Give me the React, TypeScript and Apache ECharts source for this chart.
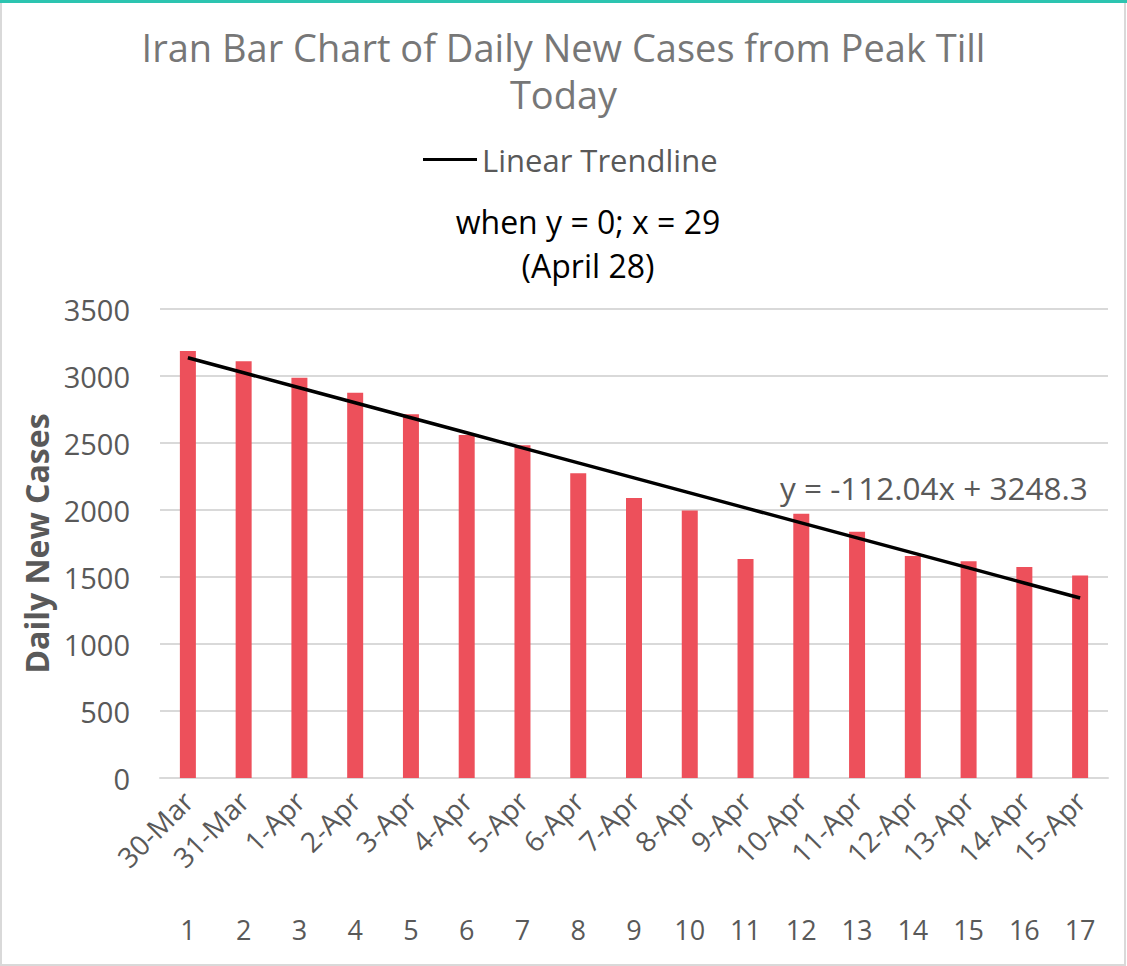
import React, { useEffect, useRef } from "react";
import * as echarts from "echarts";

const dates = ["30-Mar", "31-Mar", "1-Apr", "2-Apr", "3-Apr", "4-Apr", "5-Apr", "6-Apr", "7-Apr", "8-Apr", "9-Apr", "10-Apr", "11-Apr", "12-Apr", "13-Apr", "14-Apr", "15-Apr"];
const dayNumbers = ["1", "2", "3", "4", "5", "6", "7", "8", "9", "10", "11", "12", "13", "14", "15", "16", "17"];
const dailyNewCases = [3186, 3110, 2987, 2875, 2715, 2560, 2483, 2274, 2089, 1997, 1634, 1972, 1837, 1657, 1617, 1574, 1512];
const trendline = [3136.26, 3024.22, 2912.18, 2800.14, 2688.1, 2576.06, 2464.02, 2351.98, 2239.94, 2127.9, 2015.86, 1903.82, 1791.78, 1679.74, 1567.7, 1455.66, 1343.62];
const yTicks = { min: 0, max: 3500, interval: 500 };

const FONT = "'Open Sans', sans-serif";
const GRAY = "#595959";

export default function App() {
  const ref = useRef<HTMLDivElement>(null);
  useEffect(() => {
    if (!ref.current) return;
    const chart = echarts.init(ref.current, undefined, { renderer: "svg" });
    chart.setOption({
      animation: false,
      backgroundColor: "#ffffff",
      textStyle: { fontFamily: FONT },
      title: {
        text: "Iran Bar Chart of Daily New Cases from Peak Till\nToday",
        left: "center",
        top: 18,
        textStyle: { fontFamily: FONT, fontSize: 38, fontWeight: "normal", color: "#777777", lineHeight: 47 },
      },
      legend: {
        top: 139,
        left: 418,
        data: [{ name: "Linear Trendline", icon: "rect" }],
        itemWidth: 54,
        itemHeight: 3,
        textStyle: { fontFamily: FONT, fontSize: 31, color: GRAY },
      },
      grid: { left: 160, right: 19, top: 309, bottom: 188, containLabel: false },
      xAxis: [
        {
          type: "category",
          data: dates,
          position: "bottom",
          axisLine: { lineStyle: { color: "#d9d9d9", width: 2 } },
          axisTick: { show: false },
          axisLabel: { rotate: 45, color: GRAY, fontSize: 28, fontFamily: FONT, margin: 18, interval: 0 },
        },
        {
          type: "category",
          data: dayNumbers,
          position: "bottom",
          offset: 128,
          axisLine: { show: false },
          axisTick: { show: false },
          axisLabel: { color: GRAY, fontSize: 27, fontFamily: FONT, margin: 10, interval: 0 },
        },
      ],
      yAxis: {
        type: "value",
        min: yTicks.min,
        max: yTicks.max,
        interval: yTicks.interval,
        name: "Daily New Cases",
        nameLocation: "middle",
        nameGap: 108,
        nameRotate: 90,
        nameTextStyle: { fontFamily: FONT, fontSize: 32, fontWeight: "bold", color: GRAY },
        axisLine: { show: false },
        axisTick: { show: false },
        axisLabel: { color: GRAY, fontSize: 29, fontFamily: FONT, margin: 30, formatter: (v: number) => String(v) },
        splitLine: { lineStyle: { color: "#d9d9d9", width: 2 } },
      },
      series: [
        {
          name: "Daily New Cases",
          type: "bar",
          data: dailyNewCases,
          barWidth: 16,
          itemStyle: { color: "#ED505B" },
        },
        {
          name: "Linear Trendline",
          type: "line",
          data: trendline,
          symbol: "none",
          lineStyle: { color: "#000000", width: 3.5 },
          itemStyle: { color: "#000000" },
          z: 5,
        },
      ],
      graphic: [
        { type: "rect", shape: { x: 1, y: 1, width: 1124, height: 964 }, style: { fill: "none", stroke: "#d9d9d9", lineWidth: 2 }, silent: true },
        { type: "rect", shape: { x: 0, y: 0, width: 1127, height: 3 }, style: { fill: "#2cc4b0" }, silent: true },
        {
          type: "text",
          x: 588,
          y: 221,
          style: { text: "when y = 0; x = 29", fontFamily: FONT, fontSize: 32, fill: "#000000", align: "center", verticalAlign: "middle" },
        },
        {
          type: "text",
          x: 588,
          y: 265,
          style: { text: "(April 28)", fontFamily: FONT, fontSize: 32, fill: "#000000", align: "center", verticalAlign: "middle" },
        },
        {
          type: "text",
          x: 780,
          y: 487,
          style: { text: "y = -112.04x + 3248.3", fontFamily: FONT, fontSize: 31.5, fill: GRAY, verticalAlign: "middle" },
        },
      ],
    });
    return () => chart.dispose();
  }, []);
  return <div ref={ref} style={{ position: "absolute", left: 0, top: 0, width: 1127, height: 966 }} />;
}
